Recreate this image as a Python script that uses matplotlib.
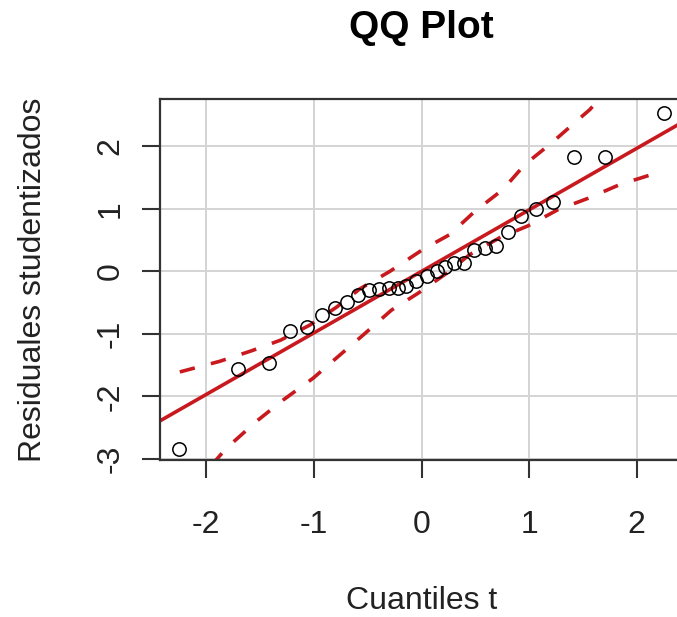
import numpy as np
import matplotlib.pyplot as plt

plt.rcParams['font.family'] = ['Liberation Sans', 'DejaVu Sans']
plt.rcParams['axes.unicode_minus'] = False

# cuantiles teoricos t y residuales studentizados ordenados
cuantiles = [-2.256, -1.703, -1.421, -1.220, -1.064, -0.925, -0.805, -0.695,
             -0.586, -0.489, -0.396, -0.302, -0.220, -0.141, -0.047,
             0.047, 0.146, 0.220, 0.302, 0.396, 0.489, 0.586, 0.695,
             0.805, 0.925, 1.064, 1.220, 1.421, 1.703, 2.256]
residuales = [-2.84, -1.56, -1.46, -0.95, -0.89, -0.70, -0.58, -0.49,
              -0.38, -0.30, -0.28, -0.27, -0.26, -0.24, -0.16,
              -0.07, 0.00, 0.07, 0.14, 0.14, 0.34, 0.37, 0.40,
              0.63, 0.89, 1.00, 1.11, 1.83, 1.83, 2.54]

# banda de confianza (limite superior e inferior)
sup_x = [-2.246, -1.875, -1.577, -1.308, -1.038, -0.787, -0.573, -0.294,
         0.012, 0.263, 0.495, 0.756, 0.960, 1.211, 1.490, 1.564, 1.70]
sup_y = [-1.61, -1.44, -1.27, -1.10, -0.86, -0.57, -0.28, 0.00,
         0.35, 0.59, 0.96, 1.31, 1.71, 2.06, 2.48, 2.59, 2.85]
inf_x = [-1.95, -1.812, -1.533, -1.286, -1.007, -0.759, -0.543, -0.279,
         -0.032, 0.217, 0.449, 0.728, 0.991, 1.270, 1.548, 1.843, 2.138, 2.215]
inf_y = [-3.10, -2.83, -2.40, -2.06, -1.71, -1.34, -1.02, -0.62,
         -0.35, -0.05, 0.27, 0.54, 0.73, 0.99, 1.17, 1.39, 1.55, 1.57]

# recta de referencia
intercepto = 0.0
pendiente = 0.985

rojo = '#c81a1e'

fig = plt.figure(figsize=(6.77, 6.17), dpi=100)
ax = fig.add_axes([160/677, 1 - 460/617, 523/677, 361/617])

ax.set_xlim(-2.43, 2.43)
ax.set_ylim(-3.02, 2.76)

ax.grid(True, color='#d4d4d4', linewidth=1.4)
ax.set_axisbelow(True)

xl = np.array(ax.get_xlim())
ax.plot(xl, intercepto + pendiente*xl, color=rojo, linewidth=2.6, zorder=2)
ax.plot(sup_x, sup_y, color=rojo, linewidth=2.6, linestyle=(0, (4.3, 4.6)), zorder=2)
ax.plot(inf_x, inf_y, color=rojo, linewidth=2.6, linestyle=(0, (4.3, 4.6)), zorder=2)
ax.plot(cuantiles, residuales, 'o', markerfacecolor='none', markeredgecolor='black',
        markersize=9.6, markeredgewidth=1.1, zorder=3)

ax.set_xticks([-2, -1, 0, 1, 2])
ax.set_yticks([-3, -2, -1, 0, 1, 2])
ax.set_xticklabels(['-2', '-1', '0', '1', '2'])
ax.set_yticklabels(['-3', '-2', '-1', '0', '1', '2'], rotation=90, va='center')
ax.tick_params(axis='both', direction='out', length=13, width=1.5, colors='#333333',
               labelsize=23, labelcolor='#222222')
ax.tick_params(axis='x', pad=23)
ax.tick_params(axis='y', pad=12)

for lado in ['left', 'bottom', 'top', 'right']:
    ax.spines[lado].set_color('#333333')
    ax.spines[lado].set_linewidth(1.6)

ax.set_xlabel('Cuantiles t', fontsize=23, color='#222222')
ax.xaxis.set_label_coords(0.5, -0.35)
ax.set_ylabel('Residuales studentizados', fontsize=23, color='#222222')
ax.yaxis.set_label_coords(-0.215, 0.5)
ax.set_title('QQ Plot', fontsize=28, fontweight='bold', pad=44)

fig.savefig('out.png', dpi=100)
